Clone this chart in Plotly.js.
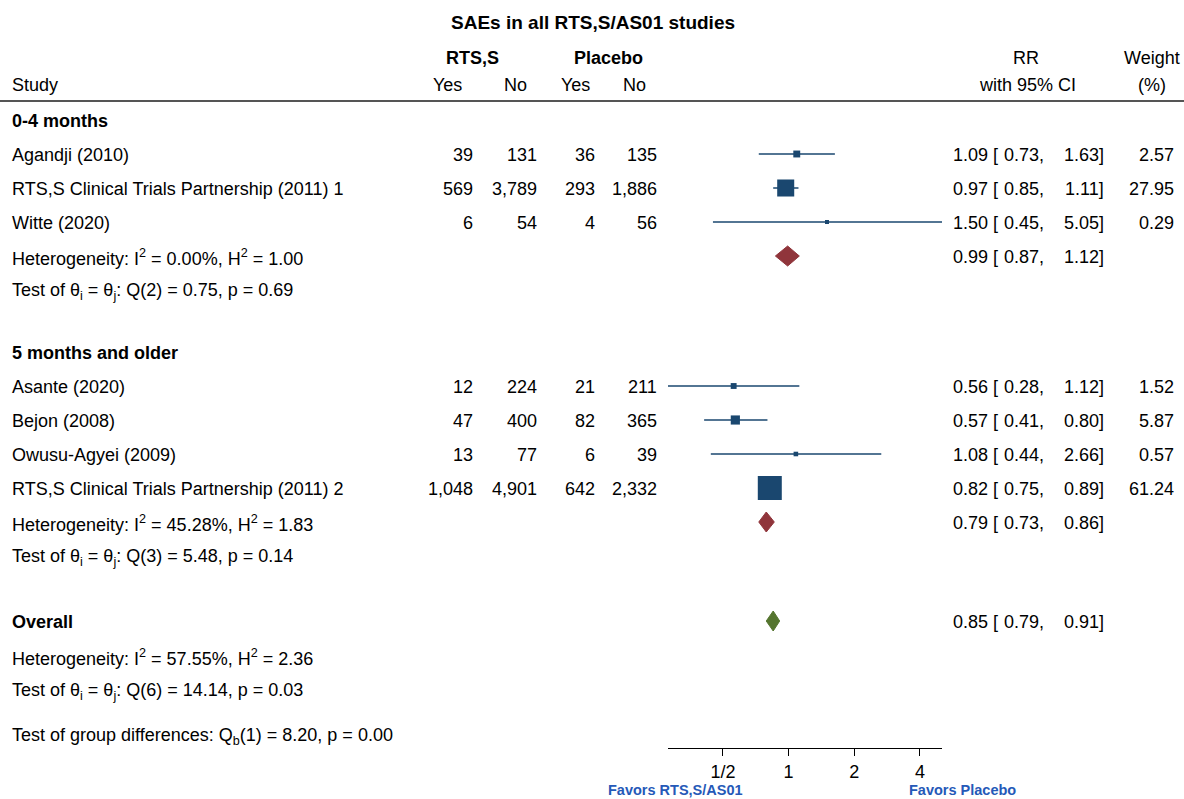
<!DOCTYPE html>
<html>
<head>
<meta charset="utf-8">
<script src="https://cdn.plot.ly/plotly-3.0.1.min.js"></script>
<style>html,body{margin:0;padding:0;background:#fff;}#chart{width:1184px;height:799px;}</style>
</head>
<body>
<div id="chart"></div>
<script>
// ---------------- DATA ----------------
const chartTitle = 'SAEs in all RTS,S/AS01 studies';
const groups = ['0-4 months', '5 months and older'];
const studies = ['Agandji (2010)', 'RTS,S Clinical Trials Partnership (2011) 1', 'Witte (2020)',
                 'Asante (2020)', 'Bejon (2008)', 'Owusu-Agyei (2009)', 'RTS,S Clinical Trials Partnership (2011) 2'];
const studyGroup = [0, 0, 0, 1, 1, 1, 1];
const rtsYes = [39, 569, 6, 12, 47, 13, 1048];
const rtsNo = [131, 3789, 54, 224, 400, 77, 4901];
const plaYes = [36, 293, 4, 21, 82, 6, 642];
const plaNo = [135, 1886, 56, 211, 365, 39, 2332];
const rr = [1.09, 0.97, 1.50, 0.56, 0.57, 1.08, 0.82];
const rrLo = [0.73, 0.85, 0.45, 0.28, 0.41, 0.44, 0.75];
const rrHi = [1.63, 1.11, 5.05, 1.12, 0.80, 2.66, 0.89];
const weight = [2.57, 27.95, 0.29, 1.52, 5.87, 0.57, 61.24];
const groupRR = [0.99, 0.79];
const groupLo = [0.87, 0.73];
const groupHi = [1.12, 0.86];
const SUP2 = '<sup>2</sup>';
const SUBI = '<sub>i</sub>';
const SUBJ = '<sub>j</sub>';
const SUBB = '<sub>b</sub>';
const groupHet = ['Heterogeneity: I' + SUP2 + ' = 0.00%, H' + SUP2 + ' = 1.00',
                  'Heterogeneity: I' + SUP2 + ' = 45.28%, H' + SUP2 + ' = 1.83'];
const groupTest = ['Test of θ' + SUBI + ' = θ' + SUBJ + ': Q(2) = 0.75, p = 0.69',
                   'Test of θ' + SUBI + ' = θ' + SUBJ + ': Q(3) = 5.48, p = 0.14'];
const overallLabel = 'Overall';
const overallRR = 0.85, overallLo = 0.79, overallHi = 0.91;
const overallHet = 'Heterogeneity: I' + SUP2 + ' = 57.55%, H' + SUP2 + ' = 2.36';
const overallTest = 'Test of θ' + SUBI + ' = θ' + SUBJ + ': Q(6) = 14.14, p = 0.03';
const groupDiff = 'Test of group differences: Q' + SUBB + '(1) = 8.20, p = 0.00';
const tickVals = [0.5, 1, 2, 4];
const tickText = ['1/2', '1', '2', '4'];
const favorsLeft = 'Favors RTS,S/AS01';
const favorsRight = 'Favors Placebo';

// ---------------- LAYOUT (pixel rows) ----------------
const W = 1184, H = 799, AXIS_Y = 748;
const groupHeaderY = [121, 353];
const studyY = [155, 189, 223, 387, 421, 455, 489];
const groupDiamondY = [257, 523];
const groupTestY = [291, 557];
const overallY = 622, overallHetY = 657, overallTestY = 691, groupDiffY = 736;

const FONT = 'Liberation Sans, Arial, Helvetica, sans-serif';
const NAVY = '#1a476f', MAROON = '#90353b', GREEN = '#55752f', FAV = '#2559b8';
const px = x => x / W;
const fmt = v => v.toLocaleString('en-US');
const f2 = v => v.toFixed(2);

const ann = [];
function txt(text, x, y, anchor, opts) {
  opts = opts || {};
  const off = anchor === 'left' ? -2 : (anchor === 'right' ? 2 : 0);
  ann.push({text: text, x: px(x + off), xref: 'paper', y: y, yref: opts.yref || 'y',
    xanchor: anchor, yanchor: 'middle', showarrow: false,
    font: {family: FONT, size: opts.size || 18, color: opts.color || '#000'}});
}
function bold(s){ return '<b>' + s + '</b>'; }
function rrText(est, lo, hi, y) {
  txt(f2(est) + ' [', 953, y, 'left');
  txt(f2(lo) + ',', 1044, y, 'right');
  txt(f2(hi) + ']', 1104, y, 'right');
}

// Title and headers
txt(bold(chartTitle), 593, 22, 'center', {size: 19});
txt(bold('RTS,S'), 472, 58, 'center');
txt(bold('Placebo'), 608, 58, 'center');
txt('RR', 1026, 58, 'center');
txt('Weight', 1152, 58, 'center');
txt('Study', 12, 85, 'left');
txt('Yes', 447, 85, 'center');
txt('No', 515, 85, 'center');
txt('Yes', 575, 85, 'center');
txt('No', 634, 85, 'center');
txt('with 95% CI', 1027, 85, 'center');
txt('(%)', 1152, 85, 'center');

// Groups
groups.forEach((g, gi) => {
  txt(bold(g), 12, groupHeaderY[gi], 'left');
  txt(groupHet[gi], 12, groupDiamondY[gi], 'left');
  txt(groupTest[gi], 12, groupTestY[gi], 'left');
  rrText(groupRR[gi], groupLo[gi], groupHi[gi], groupDiamondY[gi]);
});
studies.forEach((s, i) => {
  const y = studyY[i];
  txt(s, 12, y, 'left');
  txt(fmt(rtsYes[i]), 473, y, 'right');
  txt(fmt(rtsNo[i]), 537, y, 'right');
  txt(fmt(plaYes[i]), 595, y, 'right');
  txt(fmt(plaNo[i]), 657, y, 'right');
  rrText(rr[i], rrLo[i], rrHi[i], y);
  txt(f2(weight[i]), 1174, y, 'right');
});
txt(bold(overallLabel), 12, overallY, 'left');
rrText(overallRR, overallLo, overallHi, overallY);
txt(overallHet, 12, overallHetY, 'left');
txt(overallTest, 12, overallTestY, 'left');
txt(groupDiff, 12, groupDiffY, 'left');
txt(bold(favorsLeft), 675, 1 - 790 / H, 'center', {yref: 'paper', size: 14.5, color: FAV});
txt(bold(favorsRight), 962, 1 - 790 / H, 'center', {yref: 'paper', size: 14.5, color: FAV});

// ---------------- TRACES ----------------
const traces = [];
// CI lines
const lx = [], ly = [];
studies.forEach((s, i) => { lx.push(rrLo[i], rrHi[i], null); ly.push(studyY[i] - 1, studyY[i] - 1, null); });
traces.push({type: 'scatter', mode: 'lines', x: lx, y: ly, line: {color: NAVY, width: 1.5},
  hoverinfo: 'skip', showlegend: false});
// weight squares
const maxW = Math.max(...weight);
traces.push({type: 'scatter', mode: 'markers', x: rr, y: studyY.map(y => y - 1),
  marker: {symbol: 'square', color: NAVY, opacity: 1,
           size: weight.map(w => 2.5 + 21.5 * Math.sqrt(w / maxW)),
           line: {width: 0}},
  hoverinfo: 'skip', showlegend: false});
// diamonds
function diamond(est, lo, hi, y, color) {
  traces.push({type: 'scatter', mode: 'lines', fill: 'toself', fillcolor: color,
    x: [lo, est, hi, est, lo], y: [y - 1, y - 11, y - 1, y + 9, y - 1],
    line: {color: color, width: 1}, hoverinfo: 'skip', showlegend: false});
}
groups.forEach((g, gi) => diamond(groupRR[gi], groupLo[gi], groupHi[gi], groupDiamondY[gi], MAROON));
diamond(overallRR, overallLo, overallHi, overallY, GREEN);

const xMin = Math.min(...rrLo), xMax = Math.max(...rrHi);
const layout = {
  width: W, height: H, margin: {l: 0, r: 0, t: 0, b: 0},
  paper_bgcolor: '#fff', plot_bgcolor: 'rgba(0,0,0,0)',
  showlegend: false,
  xaxis: {type: 'log', domain: [668 / W, 942 / W], range: [Math.log10(xMin), Math.log10(xMax)],
    showgrid: false, zeroline: false, showline: true, linecolor: '#000', linewidth: 1,
    ticks: 'outside', ticklen: 7, tickcolor: '#000', tickwidth: 1,
    tickvals: tickVals, ticktext: tickText, tickfont: {family: FONT, size: 18, color: '#000'},
    fixedrange: true},
  yaxis: {domain: [(H - AXIS_Y) / H, 1], range: [AXIS_Y, 0], visible: false, fixedrange: true},
  shapes: [{type: 'line', xref: 'paper', yref: 'y', x0: 0, x1: 1, y0: 101, y1: 101,
            line: {color: '#555', width: 2}}],
  annotations: ann
};
Plotly.newPlot('chart', traces, layout, {displayModeBar: false, staticPlot: true});
</script>
</body>
</html>
